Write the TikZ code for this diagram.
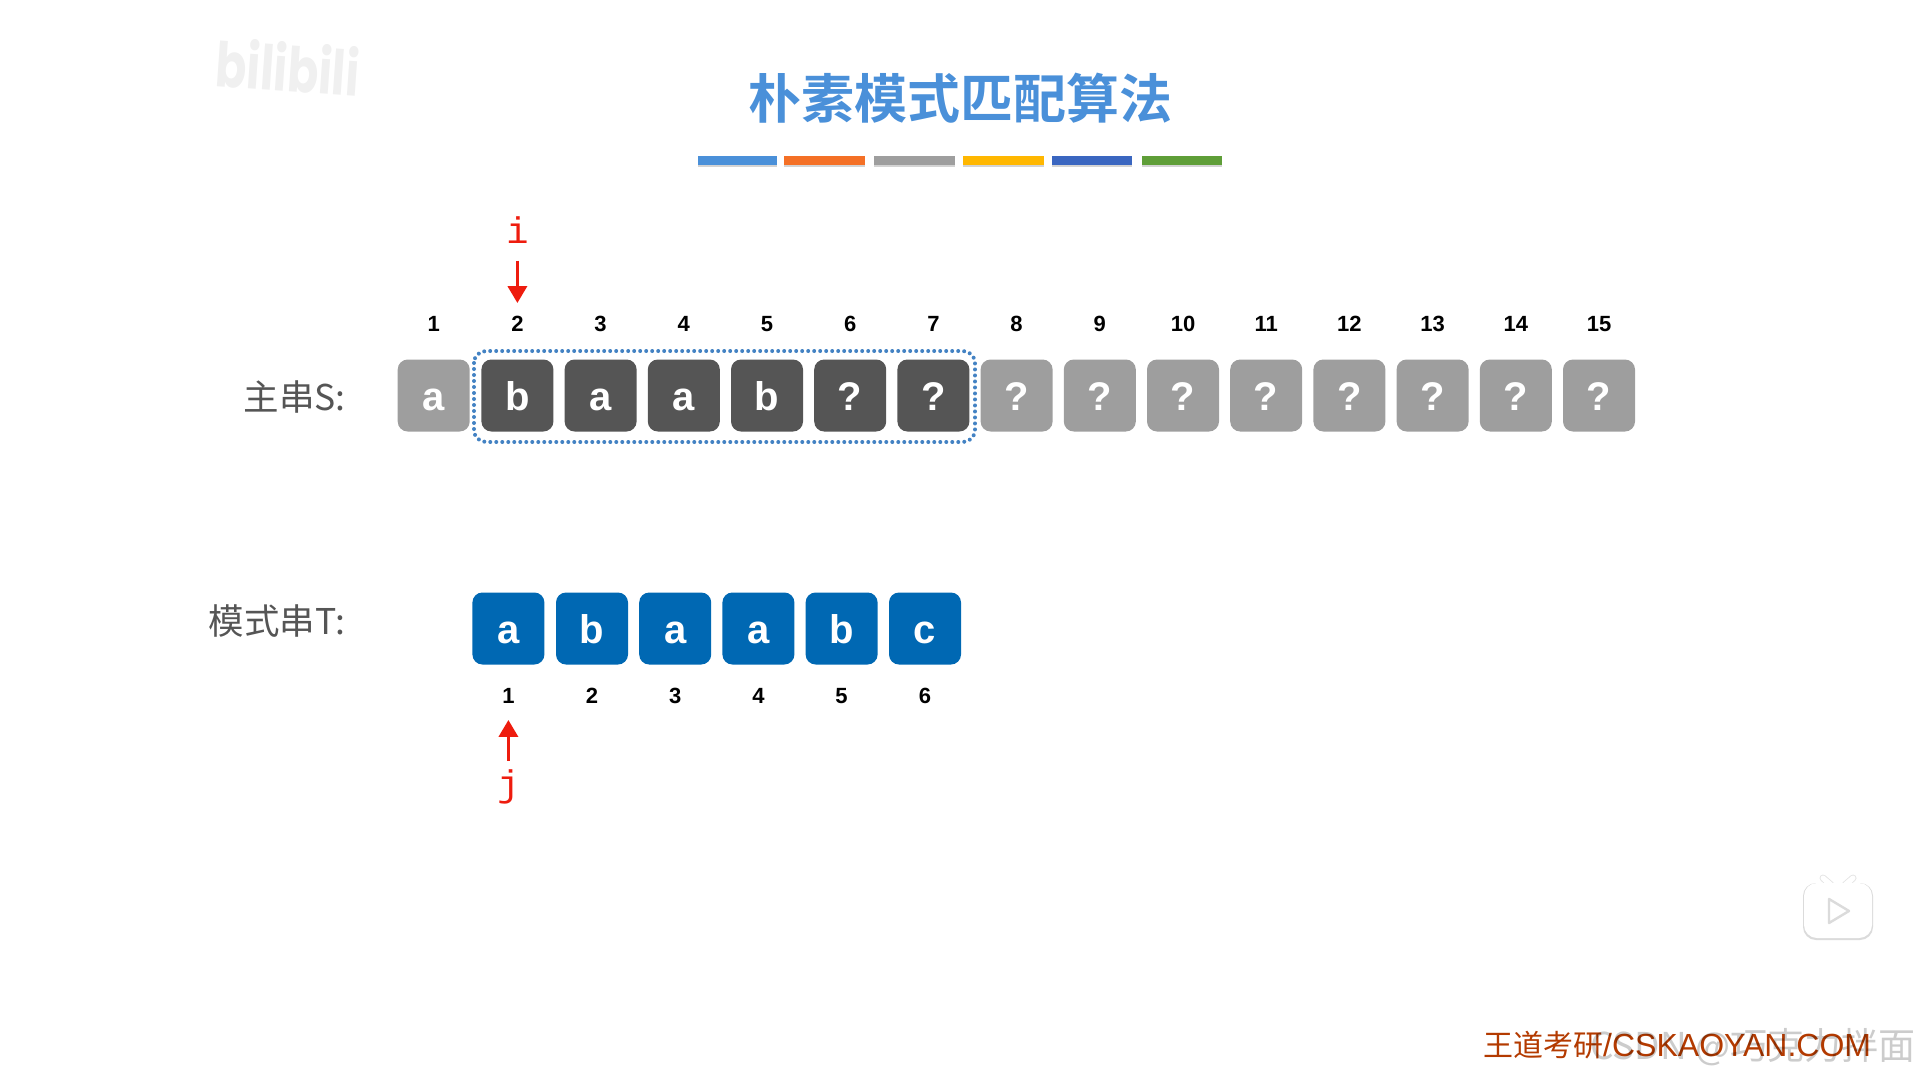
\documentclass[tikz,border=0pt]{standalone}
\usepackage{fontspec}
\setmainfont{Liberation Sans}
\newfontfamily\cjk{Noto Sans CJK SC}
\newfontfamily\cjkbold{Noto Sans CJK SC Bold}
\newfontfamily\logofont{Poppins}
\newfontfamily\ptrfont{Liberation Mono}
\usetikzlibrary{arrows.meta,shadows}
\definecolor{titleblue}{HTML}{4A90D9}
\definecolor{darkcell}{HTML}{555555}
\definecolor{greycell}{HTML}{9E9E9E}
\definecolor{bluecell}{HTML}{0068B3}
\definecolor{labelgrey}{HTML}{555555}
\definecolor{footred}{HTML}{B33A00}
\definecolor{barorange}{HTML}{F47026}
\definecolor{baryellow}{HTML}{FFB700}
\definecolor{barblue}{HTML}{3A66C0}
\definecolor{bargreen}{HTML}{5F9E38}
\definecolor{ptrred}{HTML}{EE1C0E}
\begin{document}
\begin{tikzpicture}[x=1pt,y=-1pt,
  cell/.style={minimum size=72pt,inner sep=0pt,rounded corners=10pt,text=white,font=\fontsize{40}{40}\selectfont\bfseries,text height=30pt,text depth=0pt},
  seen/.style={cell,fill=greycell},
  window/.style={cell,fill=darkcell},
  patt/.style={cell,fill=bluecell},
  idx/.style={inner sep=0pt,font=\fontsize{22}{22}\selectfont\bfseries,text height=15.5pt,text depth=0pt},
  strlabel/.style={anchor=east,inner sep=0pt,text=labelgrey,font=\fontsize{35.5}{36}\selectfont\cjk},
  ptrlabel/.style={inner sep=0pt,text=ptrred,font=\fontsize{37}{37}\selectfont\ptrfont},
  ptr/.style={line width=3.6pt,ptrred,-{Triangle[length=17pt,width=19pt]}},
  bar/.style={drop shadow={shadow xshift=0pt,shadow yshift=-1.5pt,opacity=.35}}]
  \useasboundingbox (0,0) rectangle (1919,1079);

  % title and colour strip
  \node[inner sep=0pt,text=titleblue,font=\fontsize{53}{53}\selectfont\cjkbold] (title) at (960,98) {朴素模式匹配算法};
  \fill[titleblue,bar] (698,156) rectangle (777,165);
  \fill[barorange,bar] (784,156) rectangle (865,165);
  \fill[greycell,bar] (874,156) rectangle (955,165);
  \fill[baryellow,bar] (963,156) rectangle (1044,165);
  \fill[barblue,bar] (1052,156) rectangle (1132,165);
  \fill[bargreen,bar] (1142,156) rectangle (1222,165);

  % main string
  \node[strlabel] (slabel) at (346,397) {主串S:};
  \node[seen] (s1) at (433.7,395.5) {a};
  \node[window] (s2) at (517.4,395.5) {b};
  \node[window] (s3) at (600.6,395.5) {a};
  \node[window] (s4) at (683.8,395.5) {a};
  \node[window] (s5) at (767,395.5) {b};
  \node[window] (s6) at (850.2,395.5) {?};
  \node[window] (s7) at (933.4,395.5) {?};
  \node[seen] (s8) at (1016.6,395.5) {?};
  \node[seen] (s9) at (1099.8,395.5) {?};
  \node[seen] (s10) at (1183,395.5) {?};
  \node[seen] (s11) at (1266.2,395.5) {?};
  \node[seen] (s12) at (1349.4,395.5) {?};
  \node[seen] (s13) at (1432.6,395.5) {?};
  \node[seen] (s14) at (1515.8,395.5) {?};
  \node[seen] (s15) at (1599,395.5) {?};
  \node[idx] (snum1) at (433.7,324) {1};
  \node[idx] (snum2) at (517.4,324) {2};
  \node[idx] (snum3) at (600.6,324) {3};
  \node[idx] (snum4) at (683.8,324) {4};
  \node[idx] (snum5) at (767,324) {5};
  \node[idx] (snum6) at (850.2,324) {6};
  \node[idx] (snum7) at (933.4,324) {7};
  \node[idx] (snum8) at (1016.6,324) {8};
  \node[idx] (snum9) at (1099.8,324) {9};
  \node[idx] (snum10) at (1183,324) {10};
  \node[idx] (snum11) at (1266.2,324) {11};
  \node[idx] (snum12) at (1349.4,324) {12};
  \node[idx] (snum13) at (1432.6,324) {13};
  \node[idx] (snum14) at (1515.8,324) {14};
  \node[idx] (snum15) at (1599,324) {15};
  \draw[titleblue!90!black,line width=4pt,line cap=round,dash pattern=on 0pt off 6pt,rounded corners=12pt] (474,351) rectangle (975,442);

  % pattern string
  \node[strlabel] (tlabel) at (346,621) {模式串T:};
  \node[patt] (t1) at (508.4,628.5) {a};
  \node[patt] (t2) at (592,628.5) {b};
  \node[patt] (t3) at (675.2,628.5) {a};
  \node[patt] (t4) at (758.4,628.5) {a};
  \node[patt] (t5) at (841.6,628.5) {b};
  \node[patt] (t6) at (925,628.5) {c};
  \node[idx] (tnum1) at (508.4,696) {1};
  \node[idx] (tnum2) at (592,696) {2};
  \node[idx] (tnum3) at (675.2,696) {3};
  \node[idx] (tnum4) at (758.4,696) {4};
  \node[idx] (tnum5) at (841.6,696) {5};
  \node[idx] (tnum6) at (925,696) {6};

  % pointers
  \node[ptrlabel] (ilabel) at (517.4,230) {i};
  \node[ptrlabel] (jlabel) at (508.4,787) {j};
  \draw[ptr,shorten <=17pt,shorten >=13pt] (ilabel.south) -- (snum2.north);
  \draw[ptr,shorten <=9pt,shorten >=16pt] (jlabel.north) -- (tnum1.south);

  % marks over the slide
  \node[inner sep=0pt,rotate=-4,xscale=.74,text=black!6,font=\fontsize{62}{62}\selectfont\logofont\bfseries] (logo) at (288,67) {bilibili};
  \draw[black!10,line width=7pt,line cap=round] (1823,878) -- (1831,885) (1853,878) -- (1845,885);
  \draw[white,line width=5pt,line cap=round] (1823,878) -- (1831,885) (1853,878) -- (1845,885);
  \fill[black!14,rounded corners=13pt] (1803,883) rectangle (1873,940);
  \fill[white,rounded corners=13pt] (1804,883) rectangle (1872,938);
  \draw[white,line width=5pt,line cap=round] (1825,880) -- (1831,885) (1851,880) -- (1845,885);
  \draw[black!14,line width=2.4pt,line join=round,fill=white] (1829,899) -- (1849,911) -- (1829,923) -- cycle;
  \node[anchor=west,inner sep=0pt,text=footred,font=\fontsize{30}{30}\selectfont\cjk] (foot) at (1483,1045) {王道考研\fontsize{32}{32}\selectfont\rmfamily/CSKAOYAN.COM};
  \node[anchor=west,inner sep=0pt,text=black,opacity=.2,font=\fontsize{37}{37}\selectfont\cjk] (mark) at (1590,1047) {CSDN @巧克力拌面};
\end{tikzpicture}
\end{document}
